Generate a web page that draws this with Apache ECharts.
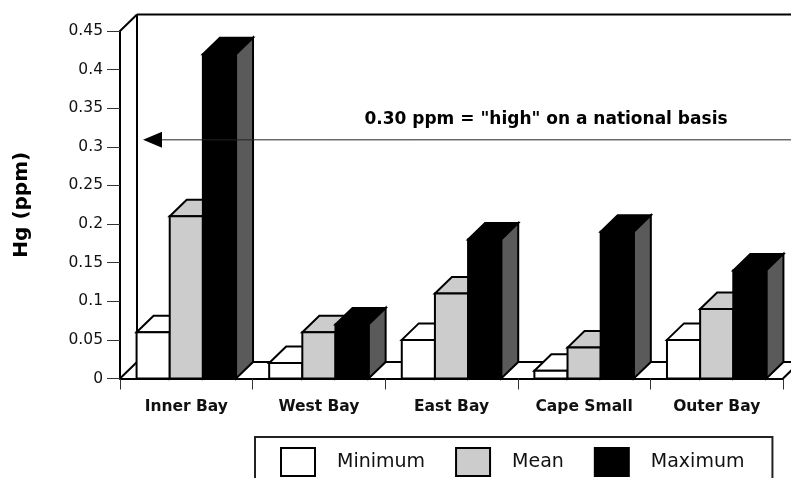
<!DOCTYPE html>
<html>
<head>
<meta charset="utf-8">
<style>html,body{margin:0;padding:0;background:#fff}#c{width:791px;height:478px}</style>
<script src="https://cdn.jsdelivr.net/npm/echarts@6/dist/echarts.min.js"></script>
</head>
<body>
<div id="c"></div>
<script>
const categories = ['Inner Bay', 'West Bay', 'East Bay', 'Cape Small', 'Outer Bay'];
const minimum = [0.06, 0.02, 0.05, 0.01, 0.05];
const mean = [0.21, 0.06, 0.11, 0.04, 0.09];
const maximum = [0.42, 0.07, 0.18, 0.19, 0.14];
const referenceValue = 0.3;
const referenceLabel = '0.30 ppm = "high" on a national basis';
const seriesStyles = [
  { name: 'Minimum', data: minimum, front: '#ffffff', top: '#ffffff', side: '#ffffff' },
  { name: 'Mean', data: mean, front: '#cccccc', top: '#cccccc', side: '#999999' },
  { name: 'Maximum', data: maximum, front: '#000000', top: '#000000', side: '#5a5a5a' }
];
const DX = 17, DY = 16.5, INK = '#000';
const SANS = '"DejaVu Sans", sans-serif';
const stroke = { stroke: INK, lineWidth: 2, lineJoin: 'miter' };

function bar3d(s, index) {
  return function (params, api) {
    const band = api.size([1, 0])[0];
    const w = band * 0.25;
    const base = api.coord([api.value(0), 0]);
    const topP = api.coord([api.value(0), api.value(1)]);
    const x = base[0] - band * 0.375 + index * w;
    const y0 = base[1], y1 = topP[1];
    return {
      type: 'group',
      children: [
        { type: 'polygon', shape: { points: [[x, y1], [x + DX, y1 - DY], [x + w + DX, y1 - DY], [x + w, y1]] }, style: Object.assign({ fill: s.top }, stroke) },
        { type: 'polygon', shape: { points: [[x + w, y1], [x + w + DX, y1 - DY], [x + w + DX, y0 - DY], [x + w, y0]] }, style: Object.assign({ fill: s.side }, stroke) },
        { type: 'rect', shape: { x: x, y: y1, width: w, height: y0 - y1 }, style: Object.assign({ fill: s.front }, stroke) }
      ]
    };
  };
}

function line(x1, y1, x2, y2, w, c) {
  return { type: 'line', shape: { x1, y1, x2, y2 }, style: { stroke: c || INK, lineWidth: w || 2 } };
}

function frame(params, api) {
  const c = params.coordSys;
  const l = c.x, r = c.x + c.width, t = c.y, b = c.y + c.height;
  return {
    type: 'group',
    children: [
      line(l + DX, t - DY, r + DX, t - DY),
      line(l + DX, t - DY, l + DX, b - DY),
      line(l, t, l + DX, t - DY),
      line(l, b, l + DX, b - DY),
      line(l + DX, b - DY, r + DX, b - DY),
      line(r, b, r + DX, b - DY)
    ]
  };
}

function reference(params, api) {
  const c = params.coordSys;
  const y = api.coord([0, api.value(1)])[1] - 7;
  const tip = c.x + 23;
  return {
    type: 'group',
    children: [
      line(tip + 15, y, c.x + c.width + DX, y, 1, '#222'),
      { type: 'polygon', shape: { points: [[tip, y], [tip + 19, y - 8], [tip + 19, y + 8]] }, style: { fill: '#000' } },
      { type: 'text', style: { text: referenceLabel, x: 546, y: y - 20, align: 'center', verticalAlign: 'middle', fill: '#000', font: 'bold 17px ' + SANS } }
    ]
  };
}

const chart = echarts.init(document.getElementById('c'), null, { renderer: 'canvas' });
chart.setOption({
  animation: false,
  backgroundColor: '#fff',
  grid: { left: 120, right: 8, top: 31, bottom: 99.5, containLabel: false },
  legend: {
    data: seriesStyles.map(s => s.name),
    left: 255, top: 437,
    orient: 'horizontal',
    icon: 'rect',
    itemWidth: 34, itemHeight: 28, itemGap: 30,
    padding: [10, 28, 14, 25],
    borderColor: '#222', borderWidth: 2,
    selectedMode: false,
    textStyle: { fontFamily: SANS, fontSize: 19, color: '#111', padding: [0, 0, 0, 17] }
  },
  xAxis: {
    type: 'category', data: categories,
    axisLine: { lineStyle: { color: INK, width: 2 } },
    axisTick: { show: true, length: 11, alignWithLabel: false, lineStyle: { color: '#333', width: 1 } },
    axisLabel: { fontFamily: SANS, fontSize: 15.5, fontWeight: 'bold', color: '#111', margin: 20 }
  },
  yAxis: {
    type: 'value', min: 0, max: 0.45, interval: 0.05,
    name: 'Hg (ppm)', nameLocation: 'middle', nameGap: 88, nameRotate: 90,
    nameTextStyle: { fontFamily: SANS, fontSize: 20, fontWeight: 'bold', color: '#000' },
    splitLine: { show: false },
    axisLine: { show: true, lineStyle: { color: INK, width: 2 } },
    axisTick: { show: true, length: 13, lineStyle: { color: '#333', width: 1 } },
    axisLabel: { fontFamily: SANS, fontSize: 15.5, color: '#111', margin: 17 }
  },
  series: [
    { type: 'custom', name: 'frame', z: 1, silent: true, clip: false, data: [[0, 0]], renderItem: frame, encode: { x: 0, y: 1 } }
  ].concat(seriesStyles.map((s, i) => ({
    type: 'custom', name: s.name, z: 2 + i, clip: false,
    itemStyle: { color: s.front, borderColor: INK, borderWidth: 2 },
    data: s.data.map((v, k) => [k, v]),
    encode: { x: 0, y: 1 },
    renderItem: bar3d(s, i)
  }))).concat([
    { type: 'custom', name: 'reference', z: 8, silent: true, clip: false, data: [[0, referenceValue]], renderItem: reference, encode: { x: 0, y: 1 } }
  ])
});
</script>
</body>
</html>
